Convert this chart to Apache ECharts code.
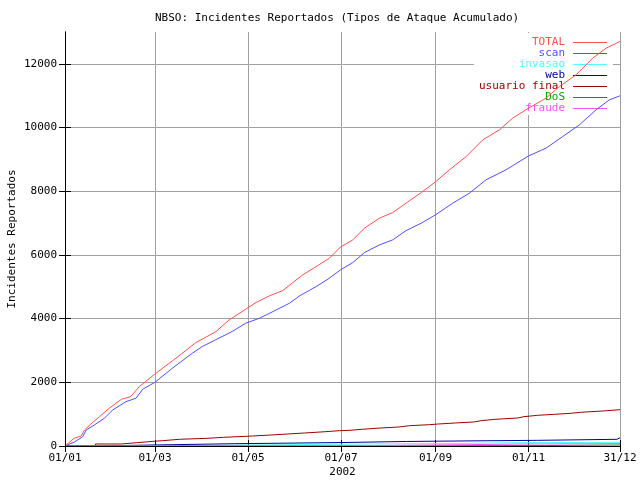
<!DOCTYPE html>
<html>
<head>
<meta charset="utf-8">
<script src="https://cdn.jsdelivr.net/npm/echarts@6/dist/echarts.min.js"></script>
<style>html,body{margin:0;padding:0;background:#fff}#c{width:640px;height:480px}</style>
</head>
<body>
<div id="c"></div>
<script>
// Day-of-year (0 = 01/01/2002) for the x ticks and their labels
var xTickDays = [0, 59, 120, 181, 243, 304, 364];
var xTickLabels = ['01/01', '01/03', '01/05', '01/07', '01/09', '01/11', '31/12'];
var yTicks = [0, 2000, 4000, 6000, 8000, 10000, 12000];

var seriesNames = ['TOTAL', 'scan', 'invasao', 'web', 'usuario final', 'DoS', 'fraude'];
var seriesColors = ['#ff5050', '#5050ff', '#50ffff', '#0000a0', '#a00000', '#00a000', '#ff50ff'];

// [day, cumulative incidents]
var totalData = [[0,0],[6,242],[10.6,314],[12.8,503],[17,691],[22.6,920],[29,1184],[37,1467],[43,1549],[48.7,1863],
  [59,2262],[72.7,2755],[85.8,3245],[99,3591],[107.6,3958],[118.5,4295],[125.4,4510],[134,4713],[142.8,4880],
  [149.4,5131],[155.9,5372],[164.7,5633],[173.4,5897],[180.6,6243],[188.7,6472],[196.4,6839],[206.2,7153],
  [214.9,7330],[223.7,7625],[233.6,7958],[242.9,8290],[252.1,8671],[263.1,9089],[274,9613],[284.9,9928],
  [293.6,10295],[304.1,10610],[315.5,10924],[324.3,11288],[335.2,11656],[346.1,12180],[354.9,12494],[364,12702]];
var scanData = [[0,0],[6.2,125],[11.6,290],[13.9,503],[19.3,660],[25.8,870],[31.3,1131],[40,1393],[46.6,1500],
  [50.9,1782],[59,2000],[70.5,2445],[83.6,2917],[90.1,3126],[98.9,3337],[109.7,3597],[118.5,3855],[127.5,4012],
  [136.3,4219],[147.2,4483],[153.8,4713],[164.7,5005],[173.4,5269],[180.6,5529],[188.7,5759],[196.4,6073],
  [206.2,6315],[214.9,6472],[223.7,6764],[233.6,6996],[242.9,7257],[254.3,7625],[265.2,7939],[276.1,8357],
  [289.2,8671],[304.1,9111],[315.5,9353],[326.4,9717],[337.4,10085],[348.3,10556],[357,10870],[364,10996]];
var invasaoData = [[0,0],[57,41],[141,63],[201,84],[265,105],[300,115],[364,115]];
var webData = [[0,0],[20,31],[57,72],[111,108],[181,142],[224,160],[265,178],[310,210],[362,260],[364,260]];
var usuarioData = [[0,0],[20,63],[37,104],[47,136],[55,167],[64,210],[75,241],[93,272],[104,314],[123,345],
  [135,377],[146,408],[157,450],[171,481],[180,493],[187,525],[195,556],[204,597],[219,638],[226,669],[239,691],
  [245,723],[256,754],[268,795],[273,838],[282,880],[297,921],[301,964],[310,995],[321,1027],[332,1058],
  [338,1100],[353,1141],[364,1160]];
var dosData = [[0,0],[135,15],[315,31],[364,31]];
var fraudeData = [[0,0],[3,10],[189,42],[265,63],[300,73],[364,78]];

var allData = [totalData, scanData, invasaoData, webData, usuarioData, dosData, fraudeData];
var stepped = [false, false, true, true, true, true, true];

var FONT = 'DejaVu Sans Mono';
var chart = echarts.init(document.getElementById('c'), null, {renderer: 'canvas'});

var series = seriesNames.map(function (n, i) {
  return {
    name: n, type: 'line', data: allData[i], showSymbol: false, symbol: 'none',
    step: stepped[i] ? 'end' : false,
    lineStyle: {color: seriesColors[i], width: 1}, itemStyle: {color: seriesColors[i]},
    animation: false, z: 2, silent: true
  };
});

var commonLabel = {fontFamily: FONT, fontSize: 11, color: '#000'};

chart.setOption({
  backgroundColor: '#fff',
  animation: false,
  title: {
    text: 'NBSO: Incidentes Reportados (Tipos de Ataque Acumulado)',
    left: 150, top: 8,
    textStyle: {fontFamily: FONT, fontSize: 11, fontWeight: 'normal', color: '#000'}
  },
  legend: {
    orient: 'vertical', right: 27, top: 33, align: 'right', z: 1,
    backgroundColor: '#fff', padding: [4, 6, 1, 5], itemGap: 0,
    itemWidth: 34, itemHeight: 11, selectedMode: false, symbolKeepAspect: true,
    icon: 'path://M0,0H34V1H0Z',
    textStyle: {fontFamily: FONT, fontSize: 11, lineHeight: 11, padding: [0, 3, 0, 0]},
    data: seriesNames.map(function (n, i) {
      return {name: n, textStyle: {color: seriesColors[i]},
        itemStyle: {color: seriesColors[i], borderWidth: 0}, lineStyle: {width: 0}};
    })
  },
  grid: {left: 65, right: 20, top: 32, bottom: 34, containLabel: false, outerBoundsMode: 'none'},
  xAxis: [{
    type: 'value', min: 0, max: 364, position: 'bottom',
    name: '2002', nameLocation: 'middle', nameGap: 21, nameMoveOverlap: false,
    nameTextStyle: commonLabel,
    axisLine: {show: true, lineStyle: {color: '#000', width: 1}},
    axisTick: {show: true, inside: true, length: 6, customValues: xTickDays, lineStyle: {color: '#000'}},
    axisLabel: {customValues: xTickDays, margin: 7, fontFamily: FONT, fontSize: 11, color: '#000',
      formatter: function (v) { var k = xTickDays.indexOf(v); return k >= 0 ? xTickLabels[k] : ''; }},
    splitLine: {show: true, lineStyle: {color: '#a0a0a0', width: 1}}
  }, {
    type: 'value', min: 0, max: 364, position: 'top', z: 3,
    axisLine: {show: true, lineStyle: {color: '#000', width: 1}},
    axisTick: {show: true, inside: true, length: 6, customValues: xTickDays, lineStyle: {color: '#000'}},
    axisLabel: {show: false}, splitLine: {show: false}
  }],
  yAxis: [{
    type: 'value', min: 0, max: 13000, position: 'left',
    name: 'Incidentes Reportados', nameLocation: 'middle', nameGap: 47, nameRotate: 90, nameMoveOverlap: false,
    nameTextStyle: commonLabel,
    axisLine: {show: true, lineStyle: {color: '#000', width: 1}},
    axisTick: {show: true, inside: true, length: 6, customValues: yTicks, lineStyle: {color: '#000'}},
    axisLabel: {customValues: yTicks, margin: 8, fontFamily: FONT, fontSize: 11, color: '#000',
      formatter: function (v) { return String(v); }},
    splitLine: {show: true, lineStyle: {color: '#a0a0a0', width: 1}}
  }, {
    type: 'value', min: 0, max: 13000, position: 'right', z: 3,
    axisLine: {show: true, lineStyle: {color: '#000', width: 1}},
    axisTick: {show: true, inside: true, length: 6, customValues: yTicks, lineStyle: {color: '#000'}},
    axisLabel: {show: false}, splitLine: {show: false}
  }],
  series: series
});
</script>
</body>
</html>
